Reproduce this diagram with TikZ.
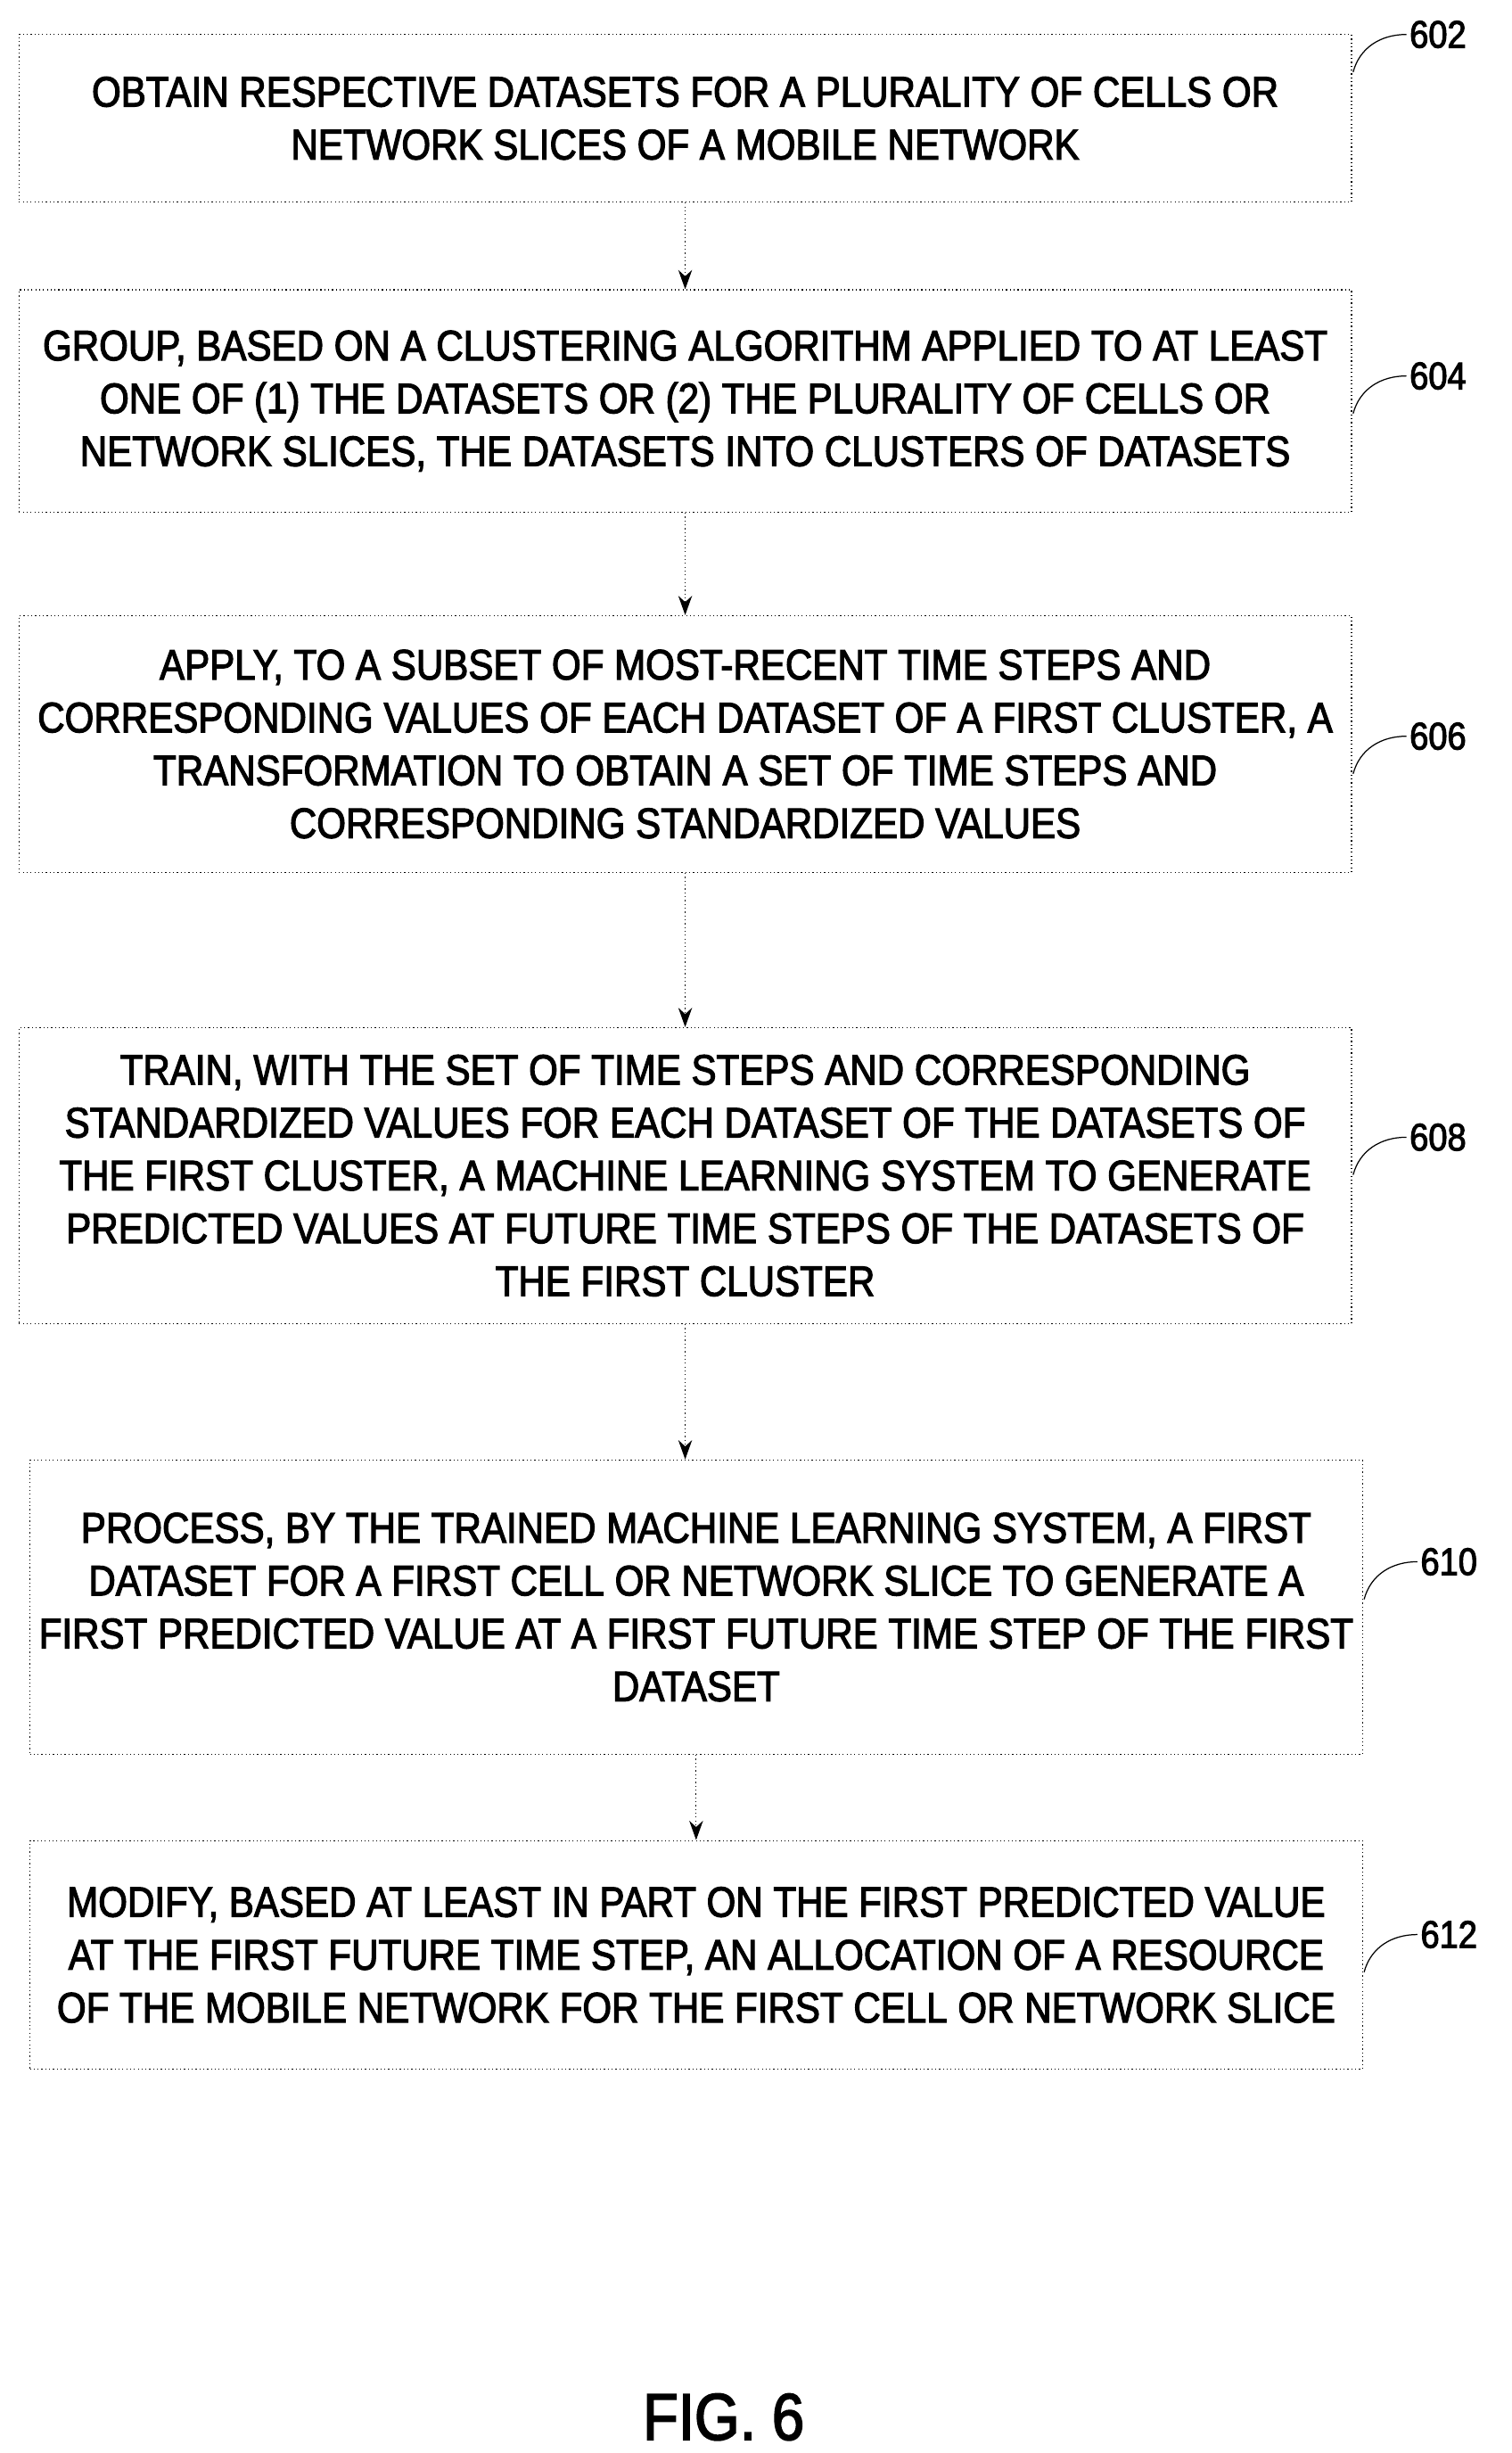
\documentclass[tikz,border=0pt]{standalone}
\usepackage{fontspec}
\setmainfont{Liberation Sans}[FakeStretch=0.88,FakeBold=2.4]
\usepackage{tikz}
\usetikzlibrary{arrows.meta,positioning}

\tikzset{
  stepbox/.style={draw, densely dotted, thin, minimum width=17.02cm, align=center,
    inner sep=0pt, font=\fontsize{15.5}{19.2}\selectfont},
  flow/.style={densely dotted, thin, -{Stealth[length=7pt,width=5pt]}},
  reflabel/.style={font=\fontsize{14}{16}\selectfont, anchor=west, inner sep=1pt},
  leader/.style={thin}
}

\begin{document}
\begin{tikzpicture}[x=0.02cm, y=-0.02cm]
    \useasboundingbox (0,0) rectangle (965,1566);

    % Steps
    \node[stepbox, minimum height=2.14cm] (b602) at (437.5,75.5)
      {OBTAIN RESPECTIVE DATASETS FOR A PLURALITY OF CELLS OR\\NETWORK SLICES OF A MOBILE NETWORK};
    \node[stepbox, minimum height=2.84cm] (b604) at (437.5,256)
      {GROUP, BASED ON A CLUSTERING ALGORITHM APPLIED TO AT LEAST\\ONE OF (1) THE DATASETS OR (2) THE PLURALITY OF CELLS OR\\NETWORK SLICES, THE DATASETS INTO CLUSTERS OF DATASETS};
    \node[stepbox, minimum height=3.28cm] (b606) at (437.5,475)
      {APPLY, TO A SUBSET OF MOST-RECENT TIME STEPS AND\\CORRESPONDING VALUES OF EACH DATASET OF A FIRST CLUSTER, A\\TRANSFORMATION TO OBTAIN A SET OF TIME STEPS AND\\CORRESPONDING STANDARDIZED VALUES};
    \node[stepbox, minimum height=3.78cm] (b608) at (437.5,750.5)
      {TRAIN, WITH THE SET OF TIME STEPS AND CORRESPONDING\\STANDARDIZED VALUES FOR EACH DATASET OF THE DATASETS OF\\THE FIRST CLUSTER, A MACHINE LEARNING SYSTEM TO GENERATE\\PREDICTED VALUES AT FUTURE TIME STEPS OF THE DATASETS OF\\THE FIRST CLUSTER};
    \node[stepbox, minimum height=3.76cm] (b610) at (444.5,1026)
      {PROCESS, BY THE TRAINED MACHINE LEARNING SYSTEM, A FIRST\\DATASET FOR A FIRST CELL OR NETWORK SLICE TO GENERATE A\\FIRST PREDICTED VALUE AT A FIRST FUTURE TIME STEP OF THE FIRST\\DATASET};
    \node[stepbox, minimum height=2.92cm] (b612) at (444.5,1248)
      {MODIFY, BASED AT LEAST IN PART ON THE FIRST PREDICTED VALUE\\AT THE FIRST FUTURE TIME STEP, AN ALLOCATION OF A RESOURCE\\OF THE MOBILE NETWORK FOR THE FIRST CELL OR NETWORK SLICE};

    % Flow
    \draw[flow] (b602.south) -- (b602.south |- b604.north);
    \draw[flow] (b604.south) -- (b604.south |- b606.north);
    \draw[flow] (b606.south) -- (b606.south |- b608.north);
    \draw[flow] (b608.south) -- (b608.south |- b610.north);
    \draw[flow] (b610.south) -- (b610.south |- b612.north);

    % Reference numerals
    \node[reflabel] (l602) at (898,22) {602};
    \node[reflabel] (l604) at (898,240) {604};
    \node[reflabel] (l606) at (898,470) {606};
    \node[reflabel] (l608) at (898,726) {608};
    \node[reflabel] (l610) at (905,997) {610};
    \node[reflabel] (l612) at (905,1235) {612};
    \foreach \n in {602,604,606,608,610,612}
      \draw[leader] (l\n.west) to[out=180,in=75] ++(-34,24);

    \node[font=\fontsize{24}{28}\selectfont] (fig) at (462,1543) {FIG. 6};
\end{tikzpicture}
\end{document}
